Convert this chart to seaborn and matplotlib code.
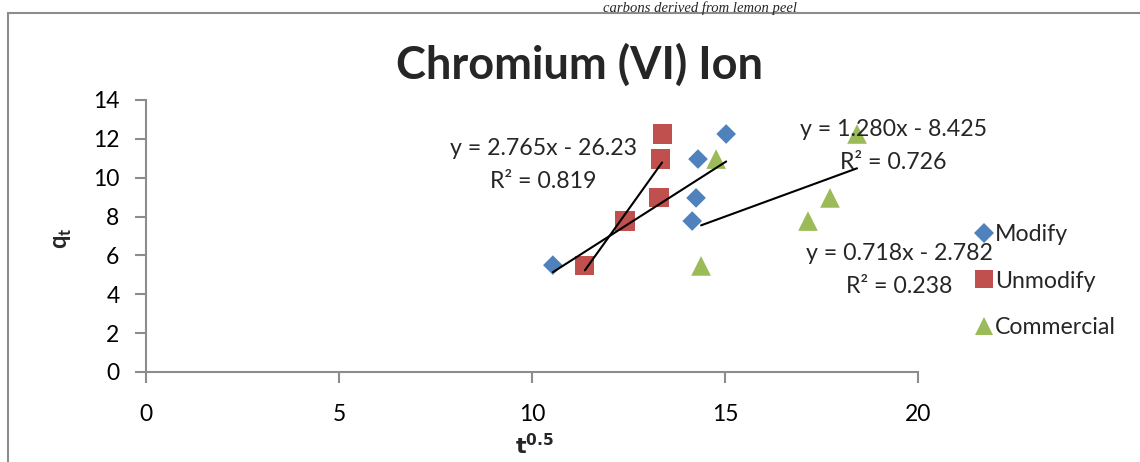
import numpy as np
import pandas as pd
import seaborn as sns
import matplotlib
matplotlib.use("Agg")
import matplotlib.pyplot as plt
from matplotlib.patches import Rectangle
from matplotlib.lines import Line2D

# ---- data ----
series_names = ["Modify", "Unmodify", "Commercial"]
modify_x = [10.54, 14.15, 14.25, 14.30, 15.03]
modify_y = [5.50, 7.77, 8.96, 10.96, 12.25]
unmodify_x = [11.37, 12.41, 13.29, 13.34, 13.37]
unmodify_y = [5.46, 7.77, 8.96, 10.96, 12.25]
commercial_x = [14.38, 17.15, 17.72, 14.77, 18.42]
commercial_y = [5.46, 7.77, 8.96, 10.96, 12.25]
fit_labels = ["y = 1.280x - 8.425\nR² = 0.726",
              "y = 2.765x - 26.23\nR² = 0.819",
              "y = 0.718x - 2.782\nR² = 0.238"]
x_ticks = [0, 5, 10, 15, 20]
y_ticks = [0, 2, 4, 6, 8, 10, 12, 14]

colors = {"Modify": "#4F81BD", "Unmodify": "#C0504D", "Commercial": "#9BBB59"}
markers = {"Modify": "D", "Unmodify": "s", "Commercial": "^"}
msizes = {"Modify": 100, "Unmodify": 190, "Commercial": 200}

df = pd.concat([
    pd.DataFrame({"x": modify_x, "y": modify_y, "series": "Modify"}),
    pd.DataFrame({"x": unmodify_x, "y": unmodify_y, "series": "Unmodify"}),
    pd.DataFrame({"x": commercial_x, "y": commercial_y, "series": "Commercial"}),
], ignore_index=True)

sns.set_style("white")
FONT = ["Lato", "DejaVu Sans"]
plt.rcParams["font.family"] = FONT

W, H = 1140, 462
fig = plt.figure(figsize=(W / 100, H / 100), dpi=100)
L, R, T, B = 146, 918, 100, 372
ax = fig.add_axes([L / W, 1 - B / H, (R - L) / W, (B - T) / H])

for name in series_names:
    sub = df[df["series"] == name]
    sns.scatterplot(data=sub, x="x", y="y", color=colors[name], marker=markers[name],
                    s=msizes[name], edgecolor="none", linewidth=0, ax=ax, zorder=3,
                    legend=False)

for name in series_names:
    sub = df[df["series"] == name]
    sns.regplot(data=sub, x="x", y="y", scatter=False, ci=None, truncate=True, ax=ax,
                line_kws=dict(color="black", lw=1.5, zorder=4))

ax.set_xlim(0, 20)
ax.set_ylim(0, 14)
ax.set_xticks(x_ticks)
ax.set_yticks(y_ticks)
ax.set_xticklabels([str(v) for v in x_ticks])
ax.set_yticklabels([str(v) for v in y_ticks])

axis_col = "#8C8C8C"
for sp in ["top", "right"]:
    ax.spines[sp].set_visible(False)
for sp in ["left", "bottom"]:
    ax.spines[sp].set_visible(True)
    ax.spines[sp].set_color(axis_col)
    ax.spines[sp].set_linewidth(1.5)
ax.tick_params(axis="both", which="major", direction="out", length=8, width=1.5,
               color=axis_col, labelsize=16.5, labelcolor="black")
ax.tick_params(axis="y", pad=11, left=True)
ax.tick_params(axis="x", pad=15, bottom=True)
ax.grid(False)

ax.set_xlabel("")
ax.set_ylabel("")
fig.text(535 / W, 1 - 446 / H, r"$\mathbf{t}^{\mathbf{0.5}}$", ha="center", va="center",
         fontsize=16)
fig.text(62 / W, 1 - 238 / H, "q$_\\mathregular{t}$", ha="center", va="center", rotation=90,
         fontsize=17, fontweight="bold")

# Title
fig.text(580 / W, 1 - 65 / H, "Chromium (VI) Ion", ha="center", va="center",
         fontsize=32.5, fontweight="bold")

# Caption at top (partly cut off in the reference)
fig.text(700 / W, 1 - 1 / H, "carbons derived from lemon peel", ha="center", va="top",
         fontsize=10.5, style="italic", family=["Liberation Serif", "DejaVu Serif"])

# Fit equation labels
label_pos = [(893, 146), (543, 165), (899, 270)]
for txt, (px, py) in zip(fit_labels, label_pos):
    fig.text(px / W, 1 - py / H, txt, ha="center", va="center", fontsize=16.7,
             linespacing=1.7)

# Outer frame
fig.patches.append(Rectangle((8 / W, -0.1), 1.2, 1 - 13 / H + 0.1, transform=fig.transFigure,
                             fill=False, edgecolor="#8C8C8C", lw=1.5, zorder=0))

# Legend
handles = [Line2D([], [], ls="none", marker=markers[n], color=colors[n],
                  markersize={"Modify": 10, "Unmodify": 13, "Commercial": 13}[n],
                  markeredgewidth=0) for n in series_names]
fig.legend(handles, series_names, loc="center left", bbox_to_anchor=(965 / W, 1 - 281 / H),
           frameon=False, fontsize=16.7, labelspacing=1.1, handlelength=0.8,
           handletextpad=0.1, borderaxespad=0)

fig.savefig("out.png", dpi=100)
